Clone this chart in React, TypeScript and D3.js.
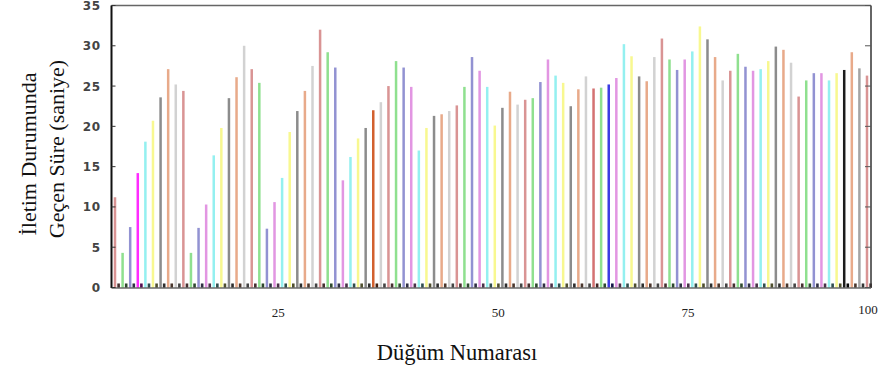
import React from "react";
import * as d3 from "d3";

// Transmission time per node (seconds), node 1..100
const nodeIds: number[] = d3.range(1, 101);
const transmitTime: number[] = [
  11.2, 4.3, 7.5, 14.2, 18.1, 20.7, 23.6, 27.1, 25.2, 24.4,
  4.3, 7.4, 10.3, 16.4, 19.8, 23.5, 26.1, 30.0, 27.1, 25.4,
  7.3, 10.6, 13.6, 19.3, 21.9, 24.4, 27.5, 32.0, 29.2, 27.3,
  13.3, 16.2, 18.5, 19.8, 22.0, 23.0, 25.0, 28.1, 27.3, 24.9,
  17.0, 19.8, 21.3, 21.5, 21.9, 22.6, 24.9, 28.6, 26.9, 24.9,
  20.1, 22.3, 24.3, 22.7, 23.3, 23.5, 25.5, 28.3, 26.3, 25.4,
  22.5, 24.6, 26.2, 24.7, 24.8, 25.2, 26.0, 30.2, 28.7, 26.2,
  25.6, 28.6, 30.9, 28.3, 27.0, 28.3, 29.3, 32.4, 30.8, 28.6,
  25.7, 26.9, 29.0, 27.4, 26.9, 27.1, 28.1, 29.9, 29.5, 27.9,
  23.7, 25.7, 26.6, 26.6, 25.7, 26.6, 27.0, 29.2, 27.2, 26.3,
];
// Second (small) series drawn at the foot of every node
const idleTime: number[] = [
  0.5, 0.5, 0.5, 0.5, 0.5, 0.5, 0.5, 0.5, 0.5, 0.5,
  0.5, 0.5, 0.5, 0.5, 0.5, 0.5, 0.5, 0.5, 0.5, 0.5,
  0.5, 0.5, 0.5, 0.5, 0.5, 0.5, 0.5, 0.5, 0.5, 0.5,
  0.5, 0.5, 0.5, 0.5, 0.5, 0.5, 0.5, 0.5, 0.5, 0.5,
  0.5, 0.5, 0.5, 0.5, 0.5, 0.5, 0.5, 0.5, 0.5, 0.5,
  0.5, 0.5, 0.5, 0.5, 0.5, 0.5, 0.5, 0.5, 0.5, 0.5,
  0.5, 0.5, 0.5, 0.5, 0.5, 0.5, 0.5, 0.5, 0.5, 0.5,
  0.5, 0.5, 0.5, 0.5, 0.5, 0.5, 0.5, 0.5, 0.5, 0.5,
  0.5, 0.5, 0.5, 0.5, 0.5, 0.5, 0.5, 0.5, 0.5, 0.5,
  0.5, 0.5, 0.5, 0.5, 0.5, 0.5, 0.5, 0.5, 0.5, 0.5,
];
const yTicks: number[] = [0, 5, 10, 15, 20, 25, 30, 35];
const xTickLabels: number[] = [25, 50, 75, 100];

// Repeating 9-colour cycle with a few nodes drawn in a distinct shade
const palette: string[] = [
  "#d99494", "#8fe08f", "#9292d2", "#e296e2", "#94f0f0",
  "#f8f890", "#8c8c8c", "#e8aa8a", "#d2d2d2",
];
const colorOverrides: Record<number, string> = {
  4: "#ff2cff",
  35: "#d2602e",
  64: "#d47272",
  66: "#3c3ce4",
  97: "#1c1c1c",
  99: "#a4a4a4",
};

const W = 884;
const H = 369;
const plotLeft = 111.5;
const plotRight = 871;
const plotTop = 5.5;
const plotBottom = 287.5;
// small shifts of the x tick labels relative to their node
const xLabelNudge: number[] = [-19, 11, 11, 1];
const xLabelBaseline: number[] = [317, 317, 317, 314];

export default function App() {
  const x = d3.scaleLinear().domain([1, 100]).range([115, 867]);
  const y = d3.scaleLinear().domain([0, 35]).range([plotBottom, plotTop]);
  const colorOf = (id: number) =>
    colorOverrides[id] ?? palette[(id - 1) % palette.length];

  const serif = "'Liberation Serif', 'Times New Roman', serif";
  const sans = "'DejaVu Sans', sans-serif";

  return (
    <svg
      width={W}
      height={H}
      style={{ position: "absolute", left: 0, top: 0, background: "#fff" }}
    >
      {/* main bars */}
      {nodeIds.map((id, i) => (
        <rect
          key={"t" + id}
          x={x(id) - 1.25}
          y={y(transmitTime[i])}
          width={2.5}
          height={y(0) - y(transmitTime[i])}
          fill={colorOf(id)}
        />
      ))}
      {/* small companion bars */}
      {nodeIds.map((id, i) => (
        <rect
          key={"s" + id}
          x={x(id) + 2.3}
          y={y(idleTime[i])}
          width={2.6}
          height={y(0) - y(idleTime[i])}
          fill={d3.color(colorOf(id))!.darker(3.2).formatHex()}
        />
      ))}

      {/* frame */}
      <line x1={plotLeft} x2={plotRight} y1={plotTop} y2={plotTop} stroke="#666" strokeWidth={1.5} />
      <line x1={plotRight} x2={plotRight} y1={plotTop} y2={plotBottom + 0.5} stroke="#333" strokeWidth={1.5} />
      <line x1={plotLeft} x2={plotRight} y1={plotBottom + 0.5} y2={plotBottom + 0.5} stroke="#222" strokeWidth={1.2} />
      <line x1={plotLeft} x2={plotLeft} y1={plotTop} y2={plotBottom + 0.5} stroke="#111" strokeWidth={2} />

      {/* y ticks, both sides, pointing inward */}
      {yTicks.map((t) => (
        <g key={"yt" + t}>
          <line x1={plotLeft} x2={plotLeft + 4} y1={y(t)} y2={y(t)} stroke="#333" strokeWidth={1} />
          <line x1={plotRight - 6} x2={plotRight} y1={y(t)} y2={y(t)} stroke="#555" strokeWidth={1} />
          <text
            x={101}
            y={y(t) + 4.5}
            textAnchor="end"
            fontFamily={sans}
            fontSize={12}
            fontWeight="bold"
            letterSpacing={0.8}
            fill="#444"
          >
            {t}
          </text>
        </g>
      ))}

      {/* x tick labels */}
      {xTickLabels.map((v, i) => (
        <text
          key={"xt" + v}
          x={x(v) + xLabelNudge[i]}
          y={xLabelBaseline[i]}
          textAnchor="middle"
          fontFamily={serif}
          fontSize={13}
          fill="#222"
        >
          {v}
        </text>
      ))}

      {/* axis titles */}
      <text
        x={457}
        y={360}
        textAnchor="middle"
        fontFamily={serif}
        fontSize={22.5}
        fill="#111"
      >
        Düğüm Numarası
      </text>
      <text
        transform="translate(36,154) rotate(-90)"
        textAnchor="middle"
        fontFamily={serif}
        fontSize={22}
        fill="#111"
      >
        İletim Durumunda
      </text>
      <text
        transform="translate(64,149) rotate(-90)"
        textAnchor="middle"
        fontFamily={serif}
        fontSize={22}
        fill="#111"
      >
        Geçen Süre (saniye)
      </text>
    </svg>
  );
}
